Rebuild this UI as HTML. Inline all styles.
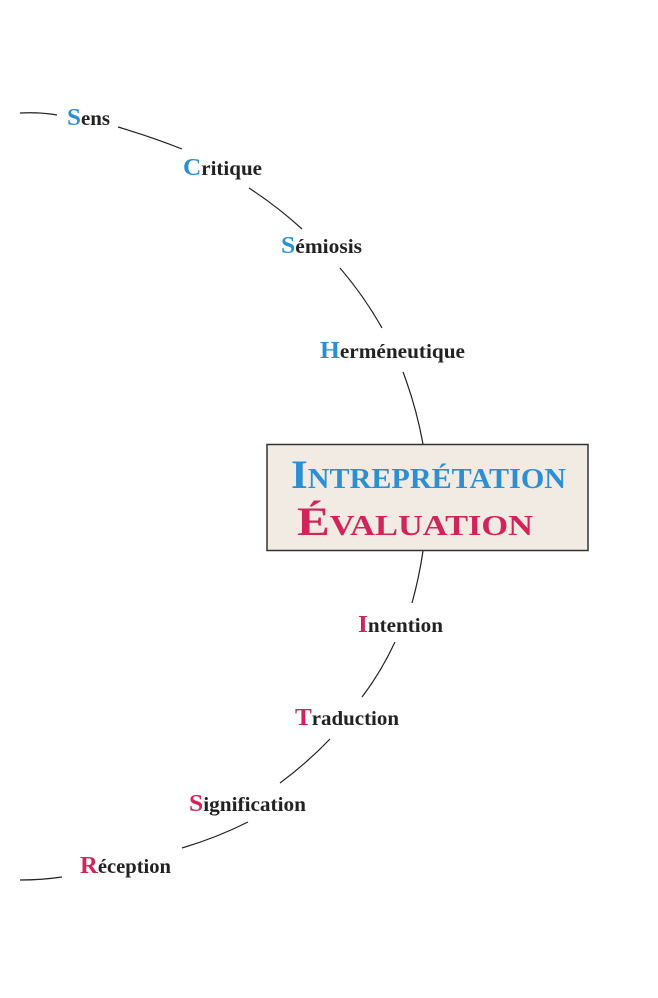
<!DOCTYPE html>
<html><head><meta charset="utf-8"><style>
html,body{margin:0;padding:0;background:#fff;}
svg{display:block;}
text{font-family:"Liberation Serif",serif;font-weight:bold;}
.l{font-size:20px;fill:#222;}
.b{fill:#2b8fd6;font-size:24px;}
.r{fill:#d0245a;font-size:24px;}
</style></head><body>
<svg width="658" height="998" viewBox="0 0 658 998" xmlns="http://www.w3.org/2000/svg">
<g stroke="#222" stroke-width="1.2" fill="none">
<path d="M20,113 Q40,112 57,115"/>
<path d="M118,127 Q152,137 182,149"/>
<path d="M249,188 Q278,207 302,229"/>
<path d="M340,268 Q364,296 382,328"/>
<path d="M403,372 Q416,406 423,444"/>
<path d="M423,551 Q419,578 412,603"/>
<path d="M395,642 Q381,672 362,697"/>
<path d="M330,739 Q307,763 280,783"/>
<path d="M248,822 Q216,838 182,848"/>
<path d="M20,880 Q42,880 62,877"/>
</g>
<rect x="267" y="444.5" width="321" height="106" fill="#f1ebe4" stroke="#333" stroke-width="1.5"/>
<text x="291" y="488" font-size="40" fill="#2b8fd6" style="font-variant:small-caps" textLength="275" lengthAdjust="spacingAndGlyphs">Intreprétation</text>
<text x="297" y="535" font-size="40" fill="#d0245a" style="font-variant:small-caps" textLength="236" lengthAdjust="spacingAndGlyphs">Évaluation</text>
<text class="l" x="67" y="125" textLength="43" lengthAdjust="spacingAndGlyphs"><tspan class="b">S</tspan>ens</text>
<text class="l" x="183" y="175" textLength="79" lengthAdjust="spacingAndGlyphs"><tspan class="b">C</tspan>ritique</text>
<text class="l" x="281" y="253" textLength="81" lengthAdjust="spacingAndGlyphs"><tspan class="b">S</tspan>émiosis</text>
<text class="l" x="320" y="358" textLength="145" lengthAdjust="spacingAndGlyphs"><tspan class="b">H</tspan>erméneutique</text>
<text class="l" x="358" y="632" textLength="85" lengthAdjust="spacingAndGlyphs"><tspan class="r">I</tspan>ntention</text>
<text class="l" x="295" y="725" textLength="104" lengthAdjust="spacingAndGlyphs"><tspan class="r">T</tspan>raduction</text>
<text class="l" x="189" y="811" textLength="117" lengthAdjust="spacingAndGlyphs"><tspan class="r">S</tspan>ignification</text>
<text class="l" x="80" y="873" textLength="91" lengthAdjust="spacingAndGlyphs"><tspan class="r">R</tspan>éception</text>
</svg>
</body></html>
